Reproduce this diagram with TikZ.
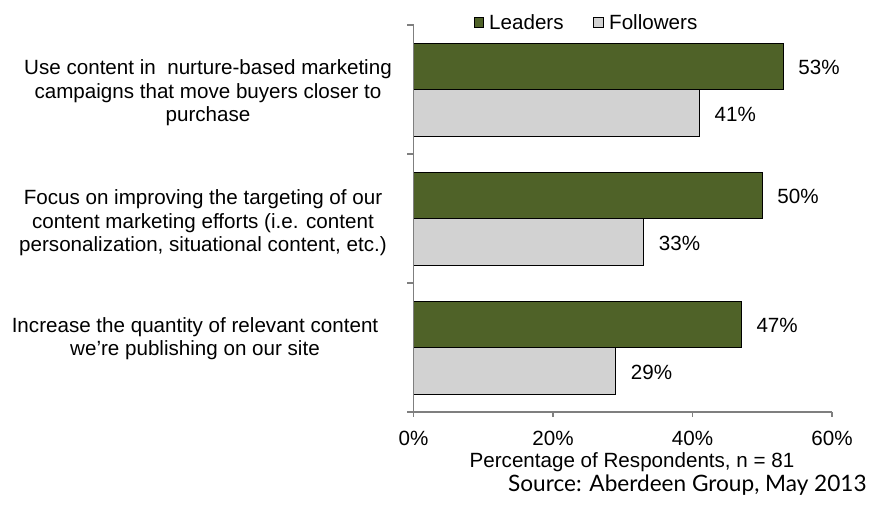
\documentclass[tikz,border=0pt]{standalone}
\usepackage{fontspec}
\setmainfont{Liberation Sans}
\newfontfamily\srcfont{Lato}
\definecolor{leadgreen}{HTML}{4F6228}
\definecolor{follgray}{HTML}{D2D2D2}
\definecolor{axisgray}{HTML}{7F7F7F}
\tikzset{
  barlead/.style={fill=leadgreen,draw=black,line width=0.8pt},
  barfoll/.style={fill=follgray,draw=black,line width=0.8pt},
  vallabel/.style={anchor=west,inner sep=0pt,font=\fontsize{20.6}{24}\selectfont},
  catlabel/.style={align=center,inner sep=0pt,font=\fontsize{20.6}{23.5}\selectfont},
  axisline/.style={draw=axisgray,line width=1.2pt}
}
\begin{document}
\begin{tikzpicture}[x=1pt,y=-1pt]
\useasboundingbox[fill=white] (0,0) rectangle (876,504);

                    % legend
                    \draw[barlead] (474,17) rectangle (483,27);
                    \node[vallabel] (legLead) at (489,22) {Leaders};
                    \draw[barfoll] (593,17) rectangle (603,27);
                    \node[vallabel] (legFoll) at (609,22) {Followers};

                    % bars, group 1
                    \draw[barlead] (413.5,43.3) rectangle ({413.5+6.975*53},89.7);
                    \draw[barfoll] (413.5,89.7) rectangle ({413.5+6.975*41},136.3);
                    \node[vallabel] (lead1) at ({428.5+6.975*53},67.5) {53\%};
                    \node[vallabel] (foll1) at ({428.5+6.975*41},114) {41\%};

                    % bars, group 2
                    \draw[barlead] (413.5,172.3) rectangle ({413.5+6.975*50},218.7);
                    \draw[barfoll] (413.5,218.7) rectangle ({413.5+6.975*33},265.3);
                    \node[vallabel] (lead2) at ({428.5+6.975*50},196.5) {50\%};
                    \node[vallabel] (foll2) at ({428.5+6.975*33},243) {33\%};

                    % bars, group 3
                    \draw[barlead] (413.5,301.3) rectangle ({413.5+6.975*47},347.7);
                    \draw[barfoll] (413.5,347.7) rectangle ({413.5+6.975*29},394.3);
                    \node[vallabel] (lead3) at ({428.5+6.975*47},325.5) {47\%};
                    \node[vallabel] (foll3) at ({428.5+6.975*29},372) {29\%};

                    % category labels
                    \node[catlabel] (cat1) at (208,93) {Use content in~ nurture-based marketing\\campaigns that move buyers closer to\\purchase};
                    \node[catlabel] (cat2) at (203,223) {Focus on improving the targeting of our\\content marketing efforts (i.e. content\\personalization, situational content, etc.)};
                    \node[catlabel] (cat3) at (195,338.5) {Increase the quantity of relevant content\\we’re publishing on our site};

                    % axes
                    \draw[axisline] (413.5,25) -- (413.5,417);
                    \draw[axisline] (407,412) -- (832,412);

                    \draw[axisline] (407,25) -- (413.5,25);
                    \draw[axisline] (407,154) -- (413.5,154);
                    \draw[axisline] (407,283) -- (413.5,283);

                    \draw[axisline] (553,412) -- (553,417);
                    \draw[axisline] (692.5,412) -- (692.5,417);
                    \draw[axisline] (832,412) -- (832,417);

                    % tick labels
                    \node[catlabel] (tick0) at (413.5,438.5) {0\%};
                    \node[catlabel] (tick20) at (553,438.5) {20\%};
                    \node[catlabel] (tick40) at (692.5,438.5) {40\%};
                    \node[catlabel] (tick60) at (832,438.5) {60\%};

                    \node[catlabel] (xtitle) at (632,462) {Percentage of Respondents, n = 81};
                    \node[anchor=west,inner sep=0pt,font=\srcfont\fontsize{22.6}{26}\selectfont] (source) at (508,485) {Source: Aberdeen Group, May 2013};

\end{tikzpicture}
\end{document}
